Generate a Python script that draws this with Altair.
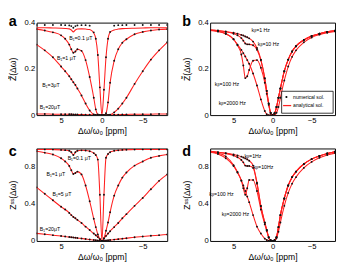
import altair as alt
import pandas as pd

# frequency offset grid (ppm)
X = [8, 7, 6, 5, 4.5, 4, 3.75, 3.5, 3.25, 3, 2.5, 2, 1.5, 1, 0.75, 0.5, 0.25, 0,
     -0.25, -0.5, -0.75, -1, -1.5, -2, -2.5, -3, -4, -5, -6, -7, -8]

# ---- panel a : Z~ for different B1 ----
A_NAMES = ["B1=0.1", "B1=1", "B1=3", "B1=20"]
A_B01 = [0.378, 0.378, 0.377, 0.376, 0.375, 0.373, 0.368, 0.360, 0.368, 0.372,
         0.373, 0.372, 0.370, 0.355, 0.330, 0.260, 0.120, 0.0,
         0.110, 0.250, 0.330, 0.358, 0.368, 0.372, 0.374, 0.375, 0.376, 0.377, 0.378, 0.378, 0.378]
A_B01_NUM = [0.390, 0.390, 0.390, 0.390, 0.389, 0.388, 0.385, 0.378, 0.385, 0.388,
             0.389, 0.389, 0.387, 0.358, 0.330, 0.260, 0.120, 0.0,
             0.110, 0.250, 0.330, 0.360, 0.387, 0.389, 0.389, 0.390, 0.390, 0.390, 0.390, 0.390, 0.390]
A_B1 = [0.372, 0.366, 0.358, 0.345, 0.330, 0.305, 0.285, 0.270, 0.275, 0.285,
        0.278, 0.238, 0.165, 0.075, 0.025, 0.003, 0.0, 0.0,
        0.0, 0.008, 0.055, 0.140, 0.235, 0.285, 0.313, 0.328, 0.350, 0.360, 0.366, 0.370, 0.372]
A_B3 = [0.305, 0.280, 0.250, 0.210, 0.190, 0.168, 0.155, 0.142, 0.130, 0.115,
        0.085, 0.050, 0.020, 0.003, 0.0, 0.0, 0.0, 0.0,
        0.0, 0.0, 0.0, 0.002, 0.012, 0.028, 0.050, 0.075, 0.135, 0.190, 0.240, 0.280, 0.315]
A_B20 = [0.005, 0.005, 0.004, 0.004, 0.004, 0.004, 0.004, 0.003, 0.003, 0.003,
         0.003, 0.002, 0.002, 0.001, 0.001, 0.0, 0.0, 0.0,
         0.0, 0.0, 0.001, 0.001, 0.002, 0.002, 0.003, 0.003, 0.004, 0.004, 0.004, 0.005, 0.005]
A_LAB = ["B₁=0.1 μT", "B₁=1 μT", "B₁=3μT", "B₁=20μT"]
A_LAB_X = [4.0, 5.5, 7.3, 7.6]
A_LAB_Y = [0.333, 0.245, 0.13, 0.033]

# ---- panel b : Z~ for different exchange rates ----
B_NAMES = ["kb=1", "kb=10", "kb=100", "kb=2000"]
B_K1 = [0.368, 0.366, 0.362, 0.356, 0.352, 0.347, 0.344, 0.340, 0.337, 0.332,
        0.318, 0.290, 0.240, 0.160, 0.105, 0.050, 0.010, 0.0,
        0.008, 0.035, 0.075, 0.115, 0.190, 0.240, 0.275, 0.298, 0.325, 0.342, 0.352, 0.360, 0.365]
B_K10 = [0.368, 0.365, 0.360, 0.352, 0.345, 0.333, 0.322, 0.310, 0.306, 0.306,
         0.302, 0.283, 0.237, 0.158, 0.104, 0.050, 0.010, 0.0,
         0.008, 0.035, 0.075, 0.115, 0.190, 0.240, 0.275, 0.298, 0.325, 0.342, 0.352, 0.360, 0.365]
B_K100 = [0.368, 0.362, 0.352, 0.328, 0.302, 0.262, 0.215, 0.160, 0.168, 0.195,
          0.235, 0.238, 0.205, 0.140, 0.092, 0.045, 0.008, 0.0,
          0.008, 0.035, 0.075, 0.115, 0.190, 0.240, 0.275, 0.298, 0.325, 0.342, 0.352, 0.360, 0.365]
B_K2000 = [0.366, 0.362, 0.352, 0.328, 0.305, 0.282, 0.268, 0.254, 0.238, 0.222,
           0.180, 0.128, 0.068, 0.018, 0.004, 0.0, 0.0, 0.0,
           0.0, 0.010, 0.035, 0.075, 0.150, 0.210, 0.252, 0.280, 0.315, 0.336, 0.348, 0.356, 0.362]
B_LAB = ["kᵦ=1 Hz", "kᵦ=10 Hz", "kᵦ=100 Hz", "kᵦ=2000 Hz"]
B_LAB_X = [2.7, 1.9, 7.4, 6.9]
B_LAB_Y = [0.369, 0.309, 0.135, 0.053]

# ---- panel c : Z^SS for different B1 ----
C_NAMES = ["B1=0.1", "B1=1", "B1=5", "B1=20"]
C_B01 = [0.990, 0.990, 0.988, 0.985, 0.982, 0.975, 0.960, 0.930, 0.960, 0.975,
         0.980, 0.978, 0.970, 0.950, 0.930, 0.880, 0.500, 0.0,
         0.500, 0.900, 0.940, 0.960, 0.975, 0.980, 0.985, 0.987, 0.988, 0.990, 0.990, 0.990, 0.990]
C_B1 = [0.970, 0.955, 0.935, 0.895, 0.860, 0.810, 0.765, 0.725, 0.735, 0.750,
        0.720, 0.600, 0.430, 0.240, 0.150, 0.070, 0.020, 0.0,
        0.030, 0.110, 0.200, 0.310, 0.490, 0.600, 0.685, 0.740, 0.815, 0.860, 0.900, 0.920, 0.935]
C_B5 = [0.580, 0.510, 0.440, 0.370, 0.340, 0.303, 0.280, 0.260, 0.245, 0.228,
        0.195, 0.155, 0.118, 0.080, 0.062, 0.042, 0.020, 0.0,
        0.025, 0.055, 0.080, 0.105, 0.150, 0.195, 0.245, 0.290, 0.380, 0.465, 0.560, 0.650, 0.720]
C_B20 = [0.082, 0.073, 0.063, 0.053, 0.048, 0.043, 0.040, 0.038, 0.035, 0.032,
         0.027, 0.022, 0.016, 0.011, 0.008, 0.005, 0.003, 0.0,
         0.003, 0.005, 0.008, 0.010, 0.015, 0.020, 0.025, 0.030, 0.040, 0.048, 0.056, 0.063, 0.070]
C_LAB = ["B₁=0.1 μT", "B₁=1 μT", "B₁=5 μT", "B₁=20μT"]
C_LAB_X = [4.2, 6.8, 6.05, 7.6]
C_LAB_Y = [0.898, 0.728, 0.507, 0.126]

# ---- panel d : Z^SS for different exchange rates ----
D_NAMES = ["kb=1", "kb=10", "kb=100", "kb=2000"]
D_K1 = [0.970, 0.960, 0.950, 0.935, 0.925, 0.912, 0.903, 0.893, 0.882, 0.868,
        0.815, 0.630, 0.380, 0.200, 0.120, 0.040, 0.008, 0.0,
        0.008, 0.040, 0.150, 0.280, 0.460, 0.600, 0.690, 0.750, 0.832, 0.885, 0.918, 0.945, 0.965]
D_K10 = [0.970, 0.958, 0.945, 0.925, 0.905, 0.875, 0.850, 0.815, 0.810, 0.810,
         0.790, 0.620, 0.375, 0.198, 0.119, 0.040, 0.008, 0.0,
         0.008, 0.040, 0.150, 0.280, 0.460, 0.600, 0.690, 0.750, 0.832, 0.885, 0.918, 0.945, 0.965]
D_K100 = [0.965, 0.950, 0.915, 0.820, 0.745, 0.650, 0.570, 0.500, 0.570, 0.660,
          0.660, 0.540, 0.340, 0.180, 0.110, 0.038, 0.008, 0.0,
          0.008, 0.040, 0.150, 0.280, 0.460, 0.600, 0.690, 0.750, 0.832, 0.885, 0.918, 0.945, 0.965]
D_K2000 = [0.960, 0.940, 0.895, 0.810, 0.740, 0.655, 0.600, 0.540, 0.480, 0.420,
           0.280, 0.155, 0.080, 0.025, 0.010, 0.003, 0.0, 0.0,
           0.004, 0.030, 0.100, 0.200, 0.380, 0.520, 0.620, 0.690, 0.790, 0.855, 0.900, 0.930, 0.950]
D_LAB = ["kᵦ=1Hz", "kᵦ=10Hz", "kᵦ=100 Hz", "kᵦ=2000 Hz"]
D_LAB_X = [3.6, 2.45, 8.1, 6.5]
D_LAB_Y = [0.92, 0.795, 0.507, 0.286]

LEGEND_LABELS = ["numerical sol.", "analytical sol."]

FONT = "Liberation Sans"
RED = "#ff1f1f"
H = 97


def long_df(names, series):
    rows = []
    for n, vals in zip(names, series):
        for xv, yv in zip(X, vals):
            rows.append({"x": xv, "y": yv, "curve": n})
    return pd.DataFrame(rows)


def lab_df(t, xs, ys):
    return pd.DataFrame({"t": t, "x": xs, "y": ys})


def legend_layers(width):
    one = pd.DataFrame({"k": [0]})
    L = width - 56
    box = alt.Chart(one).mark_rect(fill="white", stroke="black", strokeWidth=0.8).encode(
        x=alt.value(L), x2=alt.value(width - 2), y=alt.value(H - 25), y2=alt.value(H - 2))
    dot = alt.Chart(one).mark_circle(size=5, color="black", opacity=1).encode(
        x=alt.value(L + 5), y=alt.value(H - 19))
    seg = alt.Chart(one).mark_rule(color=RED, strokeWidth=1.3).encode(
        x=alt.value(L + 1.5), x2=alt.value(L + 10), y=alt.value(H - 10))
    t1 = alt.Chart(one).mark_text(align="left", baseline="middle", fontSize=5.3, font=FONT, color="black").encode(
        x=alt.value(L + 12), y=alt.value(H - 19), text=alt.value(LEGEND_LABELS[0]))
    t2 = alt.Chart(one).mark_text(align="left", baseline="middle", fontSize=5.3, font=FONT, color="black").encode(
        x=alt.value(L + 12), y=alt.value(H - 10), text=alt.value(LEGEND_LABELS[1]))
    return [box, dot, seg, t1, t2]


def panel(lines_df, dots_df, labels, ydom, yvals, ytitle, letter, width, legend=False):
    xs = alt.Scale(domain=[-8, 8], reverse=True, nice=False, zero=False)
    ys = alt.Scale(domain=ydom, nice=False, zero=False)
    xax = alt.Axis(values=[5, 0, -5], format="~g", title="Δω/ω₀ [ppm]")
    yax = alt.Axis(values=yvals, format="~g", title=ytitle, titlePadding=7)
    x = alt.X("x:Q", scale=xs, axis=xax)
    y = alt.Y("y:Q", scale=ys, axis=yax)
    line = alt.Chart(lines_df).mark_line(interpolate="monotone", strokeWidth=1.1, clip=True, color=RED).encode(
        x=x, y=y, detail="curve:N", order=alt.Order("x:Q", sort="descending")
    )
    dots = alt.Chart(dots_df).mark_circle(size=4, color="#111111", opacity=1, clip=True).encode(
        x=alt.X("x:Q", scale=xs), y=alt.Y("y:Q", scale=ys)
    )
    text = alt.Chart(labels).mark_text(align="left", baseline="middle", fontSize=5.5, font=FONT, color="black").encode(
        x=alt.X("x:Q", scale=xs), y=alt.Y("y:Q", scale=ys), text="t:N"
    )
    layers = [line, dots, text]
    if legend:
        layers += legend_layers(width)
    return alt.layer(*layers).properties(
        width=width, height=H,
        title=alt.TitleParams(letter, anchor="start", fontSize=15, fontWeight="bold", font=FONT,
                              color="black", offset=0, dy=11, frame="bounds"),
    )


a_lines = long_df(A_NAMES, [A_B01, A_B1, A_B3, A_B20])
a_dots = long_df(["num0.1"] + A_NAMES[1:], [A_B01_NUM, A_B1, A_B3, A_B20])
b_lines = long_df(B_NAMES, [B_K1, B_K10, B_K100, B_K2000])
c_lines = long_df(C_NAMES, [C_B01, C_B1, C_B5, C_B20])
d_lines = long_df(D_NAMES, [D_K1, D_K10, D_K100, D_K2000])

YA = [0, 0.1, 0.2, 0.3, 0.4]
YC = [0, 0.2, 0.4, 0.6, 0.8, 1]

pa = panel(a_lines, a_dots, lab_df(A_LAB, A_LAB_X, A_LAB_Y), [0, 0.4], YA, "Z̃(Δω)", "a", 137)
pb = panel(b_lines, b_lines, lab_df(B_LAB, B_LAB_X, B_LAB_Y), [0, 0.4], YA, "Z̃(Δω)", "b", 131, legend=True)
pc = panel(c_lines, c_lines, lab_df(C_LAB, C_LAB_X, C_LAB_Y), [0, 1], YC, "Zˢˢ(Δω)", "c", 137)
pd_ = panel(d_lines, d_lines, lab_df(D_LAB, D_LAB_X, D_LAB_Y), [0, 1], YC, "Zˢˢ(Δω)", "d", 131)

top = alt.hconcat(pa, pb, spacing=14)
bot = alt.hconcat(pc, pd_, spacing=14)

chart = (
    alt.vconcat(top, bot, spacing=8)
    .properties(padding=0, background="white")
    .configure_view(stroke="black", strokeWidth=1)
    .configure_axis(
        grid=False, ticks=False, domain=False,
        labelFont=FONT, titleFont=FONT, labelFontSize=8, titleFontSize=9,
        labelColor="black", titleColor="black", titleFontWeight="normal",
        labelPadding=2, titlePadding=2,
    )
)

chart.save("out.html", embed_options={"renderer": "svg", "actions": False})
